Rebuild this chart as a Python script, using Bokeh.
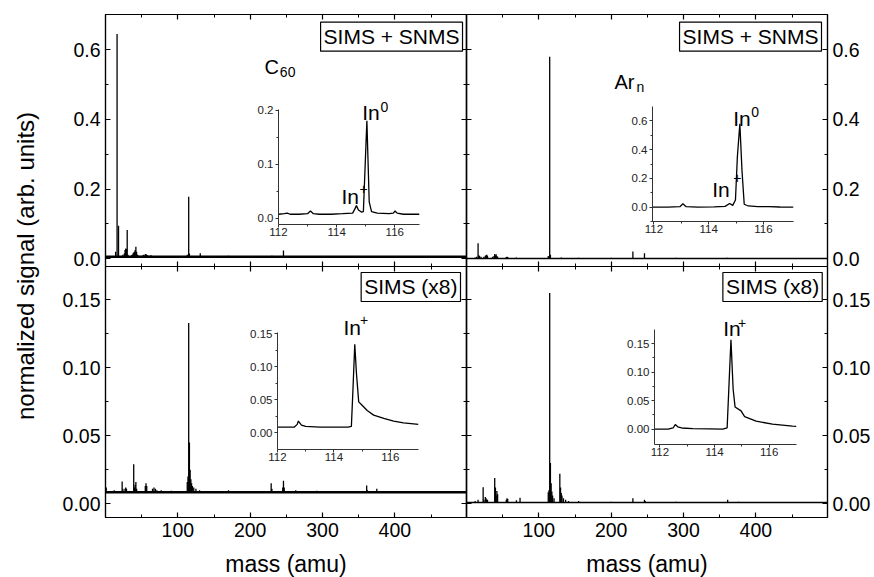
from bokeh.plotting import figure
from bokeh.models import (Column, FixedTicker, LinearAxis, Label, Range1d,
                          CustomJSTickFormatter, PrintfTickFormatter, ColumnDataSource,
                          Grid)
from bokeh.embed import file_html
from bokeh.resources import INLINE

FONT = "Liberation Sans"

# ---------------- data ----------------
mass_range = (0, 499)
mass_ticks = [100, 200, 300, 400]
mass_minor = [50, 150, 250, 350, 450]

top_yrange = (-0.022, 0.701)
top_yticks = [0.0, 0.2, 0.4, 0.6]
top_yminor = [0.1, 0.3, 0.5]
top_yfmt = "%.1f"
bot_yrange = (-0.0101, 0.1745)
bot_yticks = [0.0, 0.05, 0.10, 0.15]
bot_yminor = [0.025, 0.075, 0.125]
bot_yfmt = "%.2f"

# C60 projectile, SIMS + SNMS
tl_base = 0.006
tl_mass = [14, 16, 18, 24, 26, 27, 28, 29, 30, 31, 36, 37, 38, 39, 40, 41, 42, 43, 44, 45,
           48, 50, 51, 52, 53, 55, 56, 57, 58, 60, 62, 63, 64, 67, 69, 72, 75, 77, 80, 85,
           91, 96, 113, 115, 116, 131, 150, 170, 230, 246, 300, 360]
tl_sig = [0.02, 0.645, 0.095, 0.012, 0.015, 0.025, 0.03, 0.028, 0.083, 0.012, 0.01, 0.012,
          0.015, 0.018, 0.02, 0.025, 0.035, 0.02, 0.012, 0.01, 0.009, 0.008, 0.009, 0.01,
          0.012, 0.013, 0.014, 0.011, 0.01, 0.009, 0.009, 0.01, 0.008, 0.008, 0.007, 0.008,
          0.007, 0.008, 0.007, 0.007, 0.007, 0.007, 0.012, 0.178, 0.015, 0.016, 0.008,
          0.009, 0.009, 0.024, 0.008, 0.008]

# Ar cluster projectile, SIMS + SNMS
tr_base = 0.001
tr_mass = [12, 14, 16, 17, 18, 20, 24, 26, 27, 28, 29, 36, 38, 39, 40, 41, 42, 43, 55, 56,
           57, 69, 113, 115, 116, 131, 155, 200, 230, 246, 290, 360]
tr_sig = [0.004, 0.006, 0.045, 0.01, 0.008, 0.006, 0.006, 0.009, 0.01, 0.012, 0.009, 0.006,
          0.008, 0.014, 0.01, 0.013, 0.008, 0.006, 0.005, 0.006, 0.005, 0.004, 0.008, 0.58,
          0.012, 0.004, 0.003, 0.003, 0.021, 0.016, 0.003, 0.003]

# C60 projectile, SIMS (x8)
bl_base = 0.0085
bl_mass = [1, 12, 23, 24, 27, 28, 29, 39, 40, 41, 42, 43, 55, 56, 57, 65, 67, 69, 71, 77,
           91, 113, 114, 115, 116, 117, 118, 119, 120, 122, 125, 130, 170, 229, 230, 245,
           246, 247, 263, 292, 361, 362, 375]
bl_sig = [0.012, 0.010, 0.0164, 0.011, 0.011, 0.012, 0.011, 0.029, 0.012, 0.014, 0.016,
          0.011, 0.013, 0.015, 0.013, 0.011, 0.012, 0.011, 0.010, 0.010, 0.0095, 0.016,
          0.02, 0.133, 0.045, 0.025, 0.018, 0.015, 0.013, 0.012, 0.011, 0.010, 0.010,
          0.015, 0.011, 0.012, 0.017, 0.012, 0.010, 0.0095, 0.0135, 0.010, 0.011]

# Ar cluster projectile, SIMS (x8)
br_base = 0.001
br_mass = [12, 16, 23, 24, 26, 27, 28, 29, 39, 40, 41, 42, 43, 55, 56, 57, 69, 74, 113,
           114, 115, 116, 117, 118, 119, 121, 129, 130, 131, 132, 134, 137, 141, 155, 200,
           230, 246, 247, 290, 361, 376]
br_sig = [0.002, 0.003, 0.0122, 0.003, 0.005, 0.004, 0.003, 0.003, 0.019, 0.012, 0.006,
          0.0093, 0.007, 0.003, 0.004, 0.0035, 0.0025, 0.0045, 0.0085, 0.01, 0.155, 0.03,
          0.015, 0.009, 0.006, 0.004, 0.022, 0.012, 0.008, 0.006, 0.004, 0.003, 0.002,
          0.002, 0.0015, 0.004, 0.003, 0.002, 0.0015, 0.003, 0.0015]

# insets (In region)
in_ticks = [112, 114, 116]
in_minor = [113, 115]

i1_mass = [112.0, 112.2, 112.3, 112.4, 112.7, 113.0, 113.1, 113.2, 113.4, 113.8, 114.2,
           114.55, 114.62, 114.68, 114.75, 114.85, 114.92, 115.04, 115.12, 115.2, 115.4,
           115.8, 115.95, 116.01, 116.08, 116.3, 116.6, 116.85]
i1_sig = [0.007, 0.008, 0.009, 0.007, 0.007, 0.008, 0.013, 0.008, 0.007, 0.007, 0.008,
          0.009, 0.016, 0.023, 0.015, 0.011, 0.012, 0.180, 0.030, 0.012, 0.009, 0.008,
          0.009, 0.013, 0.009, 0.007, 0.007, 0.007]
i1_xrange = (112.0, 116.85)
i1_yrange = (-0.012, 0.201)
i1_yticks = [0.0, 0.1, 0.2]
i1_yminor = [0.05, 0.15]
i1_yfmt = "%.1f"

i2_mass = [111.95, 112.5, 112.95, 113.06, 113.18, 113.6, 114.2, 114.6, 114.77, 114.88,
           114.98, 115.05, 115.14, 115.22, 115.3, 115.45, 115.8, 116.2, 116.6, 117.1]
i2_sig = [0.0, 0.0, 0.003, 0.023, 0.003, 0.0, 0.002, 0.005, 0.025, 0.012, 0.05, 0.35,
          0.579, 0.25, 0.02, 0.008, 0.003, 0.004, 0.001, 0.0]
i2_xrange = (111.95, 117.1)
i2_yrange = (-0.1, 0.7)
i2_yticks = [0.0, 0.2, 0.4, 0.6]
i2_yminor = [-0.1, 0.1, 0.3, 0.5]
i2_yfmt = "%.1f"

i3_mass = [112.0, 112.3, 112.6, 112.7, 112.74, 112.85, 113.0, 113.5, 114.0, 114.5, 114.62,
           114.68, 114.74, 114.8, 114.88, 115.0, 115.18, 115.41, 115.77, 116.12, 116.47,
           117.0]
i3_sig = [0.009, 0.009, 0.009, 0.013, 0.018, 0.012, 0.010, 0.009, 0.009, 0.009, 0.010,
          0.07, 0.134, 0.09, 0.047, 0.042, 0.034, 0.027, 0.022, 0.018, 0.0153, 0.013]
i3_xrange = (112.0, 117.0)
i3_yrange = (-0.025, 0.152)
i3_yticks = [0.0, 0.05, 0.10, 0.15]
i3_yminor = [0.025, 0.075, 0.125]
i3_yfmt = "%.2f"

i4_mass = [111.8, 112.3, 112.48, 112.56, 112.65, 112.8, 113.2, 113.8, 114.3, 114.46,
           114.53, 114.6, 114.68, 114.75, 114.97, 115.1, 115.52, 116.12, 116.85, 117.0]
i4_sig = [0.0, 0.0, 0.002, 0.008, 0.004, 0.002, 0.001, 0.0005, 0.0, 0.002, 0.08, 0.157,
          0.07, 0.039, 0.032, 0.022, 0.014, 0.0088, 0.0053, 0.005]
i4_xrange = (111.8, 117.0)
i4_yrange = (-0.027, 0.175)
i4_yticks = [0.0, 0.05, 0.10, 0.15]
i4_yminor = [0.025, 0.075, 0.125]
i4_yfmt = "%.2f"

# common horizontal borders (the column aligns these for all children)
ML, MR = 105, 47


# ---------------- helpers ----------------
def pos(left, top):
    return {"position": "absolute", "left": f"{left}px", "top": f"{top}px"}


def no_grid(p):
    p.center = [c for c in p.center if not isinstance(c, Grid)]


def style_axis(ax, labelled, fmt=None, size="19.5px"):
    ax.axis_line_color = "black"
    ax.axis_line_width = 1.2
    ax.major_tick_line_color = "black"
    ax.minor_tick_line_color = "black"
    ax.major_tick_line_width = 1.2
    ax.minor_tick_line_width = 1.0
    ax.major_tick_in = 5
    ax.major_tick_out = 0
    ax.minor_tick_in = 3
    ax.minor_tick_out = 0
    ax.major_label_text_font = FONT
    ax.major_label_text_color = "black"
    ax.major_label_text_font_size = size
    if fmt is not None:
        ax.formatter = PrintfTickFormatter(format=fmt)
    if not labelled:
        ax.formatter = CustomJSTickFormatter(code="return ''")
        ax.major_label_standoff = 0
        ax.major_label_text_font_size = "1px"


def main_fig(yr, yt, ym, yfmt, fh, mt, mb, ylab_side, xlab):
    p = figure(x_range=Range1d(*mass_range), y_range=Range1d(*yr),
               width=ML + 361 + MR, frame_height=fh,
               min_border_left=ML, min_border_right=MR, min_border_top=mt,
               min_border_bottom=mb, toolbar_location=None, output_backend="svg",
               title=None, x_axis_location=None, y_axis_location=None)
    no_grid(p)
    p.background_fill_alpha = 0
    p.border_fill_alpha = 0
    p.outline_line_color = "black"
    p.outline_line_width = 1.2
    for side in ("left", "right", "above", "below"):
        if side in ("left", "right"):
            ax = LinearAxis(ticker=FixedTicker(ticks=yt, minor_ticks=ym))
            style_axis(ax, side == ylab_side, yfmt)
        else:
            ax = LinearAxis(ticker=FixedTicker(ticks=mass_ticks, minor_ticks=mass_minor))
            style_axis(ax, side == "below" and xlab)
            if side == "below" and xlab:
                ax.axis_label = "mass (amu)"
                ax.axis_label_text_font = FONT
                ax.axis_label_text_font_size = "23px"
                ax.axis_label_text_font_style = "normal"
                ax.axis_label_text_color = "black"
                ax.axis_label_standoff = 11
        p.add_layout(ax, side)
    return p


def spectrum(p, mass, sig, base, base_w):
    src = ColumnDataSource(dict(x=mass, top=sig, bottom=[base] * len(mass)))
    p.segment(x0="x", y0="bottom", x1="x", y1="top", source=src, color="black",
              line_width=1.3)
    p.line(x=list(mass_range), y=[base, base], color="black", line_width=base_w)


def text(p, x, y, s, size, align="left", baseline="alphabetic"):
    p.add_layout(Label(x=x, y=y, text=s, text_font=FONT, text_font_size=size,
                       text_color="black", text_align=align, text_baseline=baseline))


def boxed(p, x, y, s):
    p.add_layout(Label(x=x, y=y, text=s, text_font=FONT, text_font_size="21px",
                       text_color="black", text_align="right", text_baseline="top",
                       border_line_color="black", border_line_width=1.2,
                       background_fill_color="white", padding=3))


def inset(xr, yr, yt, ym, yfmt, mass, sig, fl, ft, fw, fh):
    mt = 6
    p = figure(x_range=Range1d(*xr), y_range=Range1d(*yr), width=ML + fw + MR,
               frame_height=fh, min_border_left=ML, min_border_right=MR,
               min_border_top=mt, min_border_bottom=26, toolbar_location=None,
               output_backend="svg", title=None, x_axis_location=None,
               y_axis_location=None)
    no_grid(p)
    p.background_fill_alpha = 0
    p.border_fill_alpha = 0
    p.outline_line_color = None
    ay = LinearAxis(ticker=FixedTicker(ticks=yt, minor_ticks=ym),
                    formatter=PrintfTickFormatter(format=yfmt))
    ax = LinearAxis(ticker=FixedTicker(ticks=in_ticks, minor_ticks=in_minor))
    for a in (ay, ax):
        a.axis_line_color = "#333333"
        a.axis_line_width = 1.0
        a.major_tick_line_color = "#333333"
        a.minor_tick_line_color = "#333333"
        a.major_tick_in = 0
        a.major_tick_out = 3
        a.minor_tick_in = 0
        a.minor_tick_out = 2
        a.major_label_text_font = FONT
        a.major_label_text_font_size = "11.5px"
        a.major_label_text_color = "#222222"
        a.major_label_standoff = 2
    ax.major_label_standoff = 0
    p.add_layout(ay, "left")
    p.add_layout(ax, "below")
    p.line(mass, sig, color="black", line_width=1.3)
    p.styles = pos(fl - ML, ft - mt)
    return p


# ---------------- background (shared y label) ----------------
bg = figure(width=874, height=577, x_range=Range1d(0, 1), y_range=Range1d(0, 1),
            min_border_left=ML, min_border_right=MR,
            min_border_top=14, min_border_bottom=60, toolbar_location=None,
            output_backend="svg", title=None, x_axis_location=None,
            y_axis_location=None)
no_grid(bg)
bg.outline_line_color = None
bg.background_fill_alpha = 0
bg.border_fill_alpha = 0
yl = LinearAxis(ticker=FixedTicker(ticks=[-5.0]), axis_line_color=None,
                major_tick_line_color=None, minor_tick_line_color=None,
                formatter=CustomJSTickFormatter(code="return ''"),
                major_label_text_font_size="1px",
                major_label_standoff=0, major_tick_out=0, major_tick_in=0,
                axis_label="normalized signal (arb. units)", axis_label_standoff=67,
                axis_label_text_font=FONT, axis_label_text_font_size="24px",
                axis_label_text_font_style="normal", axis_label_text_color="black")
bg.add_layout(yl, "left")
bg.styles = pos(0, 0)

# ---------------- main panels ----------------
tl = main_fig(top_yrange, top_yticks, top_yminor, top_yfmt, 252, 14, 8, "left", False)
spectrum(tl, tl_mass, tl_sig, tl_base, 2.5)
boxed(tl, 493.5, 0.679, "SIMS + SNMS")
text(tl, 219.8, 0.5497, "C", "20px")
text(tl, 241.0, 0.5353, "60", "14px")
text(tl, 354.9, 0.4188, "In", "21px")
text(tl, 380.2, 0.435, "0", "14px")
text(tl, 326.2, 0.179, "In", "21px")
text(tl, 351.0, 0.200, "+", "14px")
tl.styles = pos(0, 0)

tr = main_fig(top_yrange, top_yticks, top_yminor, top_yfmt, 252, 14, 8, "right", False)
spectrum(tr, tr_mass, tr_sig, tr_base, 1.5)
boxed(tr, 490.7, 0.679, "SIMS + SNMS")
text(tr, 204.6, 0.5086, "Ar", "20px")
text(tr, 235.0, 0.4942, "n", "14px")
text(tr, 368.7, 0.4015, "In", "21px")
text(tr, 393.6, 0.42, "0", "14px")
text(tr, 339.6, 0.198, "In", "21px")
text(tr, 368.7, 0.231, "+", "14px")
tr.styles = pos(466 - ML, 0)

bl = main_fig(bot_yrange, bot_yticks, bot_yminor, bot_yfmt, 251, 8, 60, "left", True)
spectrum(bl, bl_mass, bl_sig, bl_base, 2.5)
boxed(bl, 490.7, 0.1701, "SIMS (x8)")
text(bl, 329.0, 0.1297, "In", "21px")
text(bl, 351.8, 0.1348, "+", "14px")
bl.styles = pos(0, 258)

br = main_fig(bot_yrange, bot_yticks, bot_yminor, bot_yfmt, 251, 8, 60, "right", True)
spectrum(br, br_mass, br_sig, br_base, 1.5)
boxed(br, 491.7, 0.1701, "SIMS (x8)")
text(br, 354.9, 0.1287, "In", "21px")
text(br, 375.3, 0.1329, "+", "14px")
br.styles = pos(466 - ML, 258)

# ---------------- insets ----------------
in1 = inset(i1_xrange, i1_yrange, i1_yticks, i1_yminor, i1_yfmt, i1_mass, i1_sig,
            278, 109, 141, 115)
in2 = inset(i2_xrange, i2_yrange, i2_yticks, i2_yminor, i2_yfmt, i2_mass, i2_sig,
            652, 106, 141, 115)
in3 = inset(i3_xrange, i3_yrange, i3_yticks, i3_yminor, i3_yfmt, i3_mass, i3_sig,
            277, 332, 141, 117)
in4 = inset(i4_xrange, i4_yrange, i4_yticks, i4_yminor, i4_yfmt, i4_mass, i4_sig,
            654, 329, 142, 115)

root = Column(children=[bg, tl, tr, bl, br, in1, in2, in3, in4], width=874, height=577,
              styles={"position": "relative"})

open("out.html", "w").write(file_html(root, INLINE))
